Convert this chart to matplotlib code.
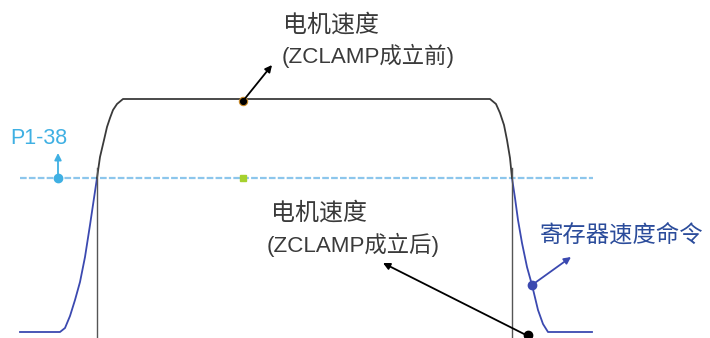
import matplotlib.pyplot as plt

# points, in pixel coords (y grows downwards)
rise_cmd_x = [20, 60, 65, 70, 75, 80, 85, 90, 97]
rise_cmd_y = [332, 332, 328, 316, 300, 282, 257, 225, 178]
motor_x = [97, 100, 104, 107, 110, 113, 117, 123, 490, 496, 500, 504, 507, 510, 512]
motor_y = [178, 157, 140, 127, 118, 110, 104, 99, 99, 104, 113, 125, 140, 158, 178]
fall_cmd_x = [512, 515, 518, 522, 527, 532, 538, 543, 548, 592]
fall_cmd_y = [178, 198, 220, 243, 267, 285, 310, 324, 332, 332]
clamp_x = [97, 512]          # where the motor speed drops to zero after ZCLAMP
threshold_y = 178            # P1-38 level
threshold_span = [20, 593]

ink = "#3a3a3a"
cmd_blue = "#3b49b0"
light_blue = "#8cc6ec"
label_blue = "#3fb0e3"
fonts = ["Liberation Sans", "Noto Sans CJK SC", "DejaVu Sans"]

fig = plt.figure(figsize=(7.1, 3.38), dpi=100)
ax = fig.add_axes([0, 0, 1, 1])
ax.set_xlim(0, 710)
ax.set_ylim(338, 0)
ax.axis("off")

ax.plot(threshold_span, [threshold_y, threshold_y], color=light_blue, lw=1.6,
        ls=(0, (3, 1)))
ax.plot(rise_cmd_x, rise_cmd_y, color=cmd_blue, lw=1.3)
ax.plot(fall_cmd_x, fall_cmd_y, color=cmd_blue, lw=1.3)
ax.plot(motor_x, motor_y, color=ink, lw=1.3)
for x in clamp_x:
    ax.plot([x, x], [threshold_y - 10, 338], color="#555555", lw=1.0)

arrow = dict(arrowstyle="-|>", lw=1.3, mutation_scale=10, shrinkA=0, shrinkB=0)

# P1-38 marker
ax.annotate("", xy=(58, 153), xytext=(58, threshold_y),
            arrowprops=dict(arrow, color=label_blue))
ax.plot(58, threshold_y, "o", color=label_blue, ms=6)
ax.text(10, 139, "P1-38", color=label_blue, fontsize=15.5, family=fonts, va="center")

ax.plot(243, threshold_y, "s", color="#a6d12e", ms=5)

# motor speed before ZCLAMP
ax.annotate("", xy=(272, 65), xytext=(243, 101), arrowprops=dict(arrow, color="black"))
ax.plot(243, 101, "o", color="black", ms=6, mec="#c88a2a", mew=0.8)
ax.text(283, 25, "电机速度", color=ink, fontsize=17.3, family=fonts, va="center")
ax.text(282, 56, "(ZCLAMP成立前)", color=ink, fontsize=16.1, family=fonts, va="center")

# motor speed after ZCLAMP
ax.annotate("", xy=(383, 263), xytext=(530, 337), arrowprops=dict(arrow, color="black"))
ax.plot(528, 335, "o", color="black", ms=6)
ax.text(271, 213, "电机速度", color=ink, fontsize=17.3, family=fonts, va="center")
ax.text(267, 245, "(ZCLAMP成立后)", color=ink, fontsize=16.1, family=fonts, va="center")

# register speed command
ax.annotate("", xy=(571, 257), xytext=(532, 285), arrowprops=dict(arrow, color=cmd_blue))
ax.plot(532, 285, "o", color=cmd_blue, ms=6)
ax.text(540, 235, "寄存器速度命令", color="#2b4c9b", fontsize=16.8, family=fonts, va="center")

fig.savefig("out.png", dpi=100)
